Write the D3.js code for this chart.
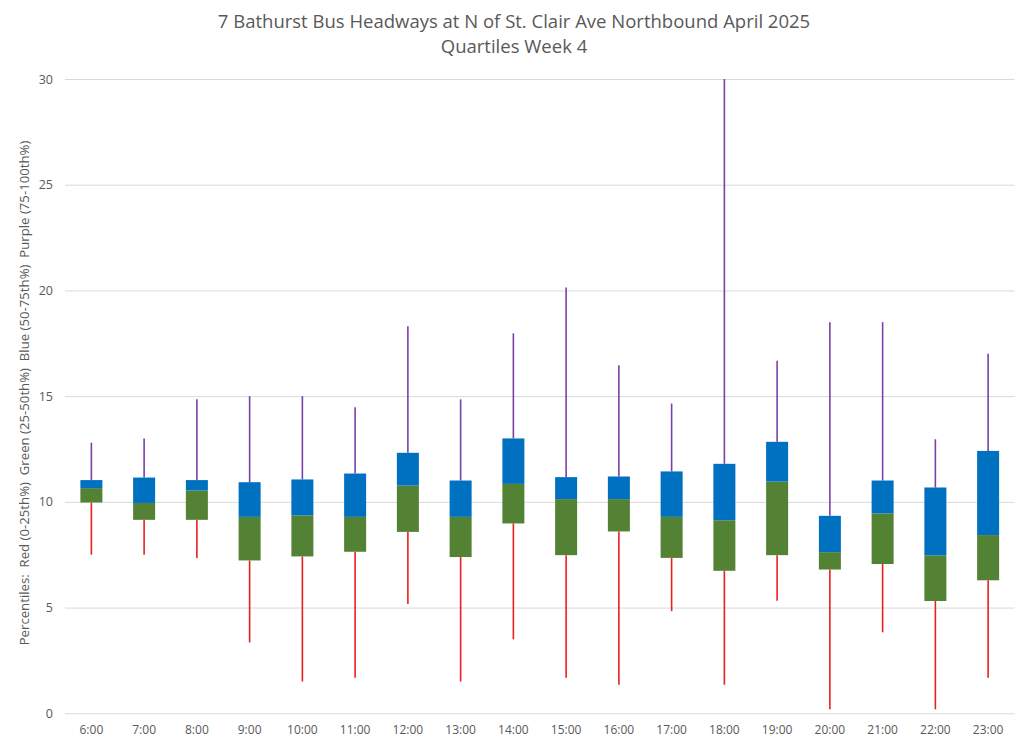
<!DOCTYPE html>
<html>
<head>
  <meta charset="utf-8">
  <title>7 Bathurst Headways</title>
  <style>
    body { margin: 0; background: #fff; }
    text { font-family: "Open Sans", Calibri, sans-serif; fill: #595959; }
  </style>
</head>
<body>
  <div id='chart'></div>
  <script src="https://d3js.org/d3.v7.min.js"></script>
  <script>
    // data (minutes)
    let hours = ['6:00', '7:00', '8:00', '9:00', '10:00', '11:00', '12:00', '13:00', '14:00',
                 '15:00', '16:00', '17:00', '18:00', '19:00', '20:00', '21:00', '22:00', '23:00'];
    let minV = [7.5, 7.5, 7.35, 3.35, 1.5, 1.68, 5.17, 1.5, 3.5, 1.68, 1.35, 4.83, 1.35, 5.32, 0.19, 3.83, 0.19, 1.68];
    let q1   = [9.97, 9.15, 9.15, 7.23, 7.42, 7.64, 8.58, 7.39, 8.98, 7.48, 8.6, 7.35, 6.74, 7.48, 6.8, 7.06, 5.31, 6.29];
    let med  = [10.65, 9.95, 10.54, 9.29, 9.36, 9.29, 10.77, 9.29, 10.85, 10.13, 10.13, 9.29, 9.13, 10.96, 7.62, 9.45, 7.47, 8.43];
    let q3   = [11.03, 11.15, 11.03, 10.93, 11.06, 11.34, 12.32, 11.01, 13.0, 11.17, 11.2, 11.44, 11.8, 12.84, 9.34, 11.01, 10.68, 12.41];
    let maxV = [12.8, 13.0, 14.85, 15.0, 15.0, 14.47, 18.31, 14.85, 17.97, 20.14, 16.46, 14.65, 30, 16.68, 18.5, 18.5, 12.96, 17.01];
    let yTicks = [0, 5, 10, 15, 20, 25, 30];

    let rows = hours.map((h, i) => ({h: h, min: minV[i], q1: q1[i], med: med[i], q3: q3[i], max: maxV[i]}));

    let svgWidth = 1024, svgHeight = 746;
    let margin = {top: 79, right: 10, bottom: 33, left: 65};
    let width = 1014.5 - margin.left;
    let height = 713.3 - margin.top;

    let svg = d3.select('#chart').append('svg')
      .attr('width', svgWidth)
      .attr('height', svgHeight);

    svg.append('text')
      .attr('x', 514).attr('y', 28)
      .attr('text-anchor', 'middle')
      .style('font-size', '18.5px')
      .text('7 Bathurst Bus Headways at N of St. Clair Ave Northbound April 2025');
    svg.append('text')
      .attr('x', 514).attr('y', 53)
      .attr('text-anchor', 'middle')
      .style('font-size', '18.5px')
      .text('Quartiles Week 4');

    let g = svg.append('g').attr('transform', 'translate(' + margin.left + ',' + margin.top + ')');

    let x = d3.scaleBand().domain(hours).range([0, width]);
    let y = d3.scaleLinear().domain([0, 30]).range([height, 0]);

    // gridlines + y labels
    let yAxis = g.append('g')
      .call(d3.axisLeft(y).tickValues(yTicks).tickSize(-width).tickPadding(12));
    yAxis.select('.domain').remove();
    yAxis.selectAll('line').attr('stroke', '#d9d9d9').attr('stroke-width', 1);
    yAxis.selectAll('text').style('font-size', '12.5px').style('font-family', '"Open Sans", sans-serif').attr('fill', '#595959');

    let xAxis = g.append('g')
      .attr('transform', 'translate(0,' + height + ')')
      .call(d3.axisBottom(x).tickSize(0).tickPadding(12));
    xAxis.select('.domain').remove();
    xAxis.selectAll('text').style('font-size', '12px').style('font-family', '"Open Sans", sans-serif').attr('fill', '#595959');

    let bw = 22;
    let cx = d => x(d.h) + x.bandwidth() / 2;

    // whiskers
    g.selectAll('.lo').data(rows).enter().append('line')
      .attr('x1', cx).attr('x2', cx)
      .attr('y1', d => y(d.min)).attr('y2', d => y(d.q1))
      .attr('stroke', '#e8201f').attr('stroke-width', 1.6);
    g.selectAll('.hi').data(rows).enter().append('line')
      .attr('x1', cx).attr('x2', cx)
      .attr('y1', d => y(d.max)).attr('y2', d => y(d.q3))
      .attr('stroke', '#7a3fa8').attr('stroke-width', 1.6);

    // boxes
    g.selectAll('.green').data(rows).enter().append('rect')
      .attr('x', d => cx(d) - bw / 2)
      .attr('width', bw)
      .attr('y', d => y(d.med))
      .attr('height', d => y(d.q1) - y(d.med))
      .attr('fill', '#548235');
    g.selectAll('.blue').data(rows).enter().append('rect')
      .attr('x', d => cx(d) - bw / 2)
      .attr('width', bw)
      .attr('y', d => y(d.q3))
      .attr('height', d => y(d.med) - y(d.q3))
      .attr('fill', '#0070c0');

    svg.append('text')
      .attr('transform', 'translate(29,393) rotate(-90)')
      .attr('text-anchor', 'middle')
      .style('font-size', '13.2px')
      .style('white-space', 'pre')
      .text('Percentiles:  Red (0-25th%)  Green (25-50th%)  Blue (50-75th%)  Purple (75-100th%)');
  </script>
</body>
</html>
